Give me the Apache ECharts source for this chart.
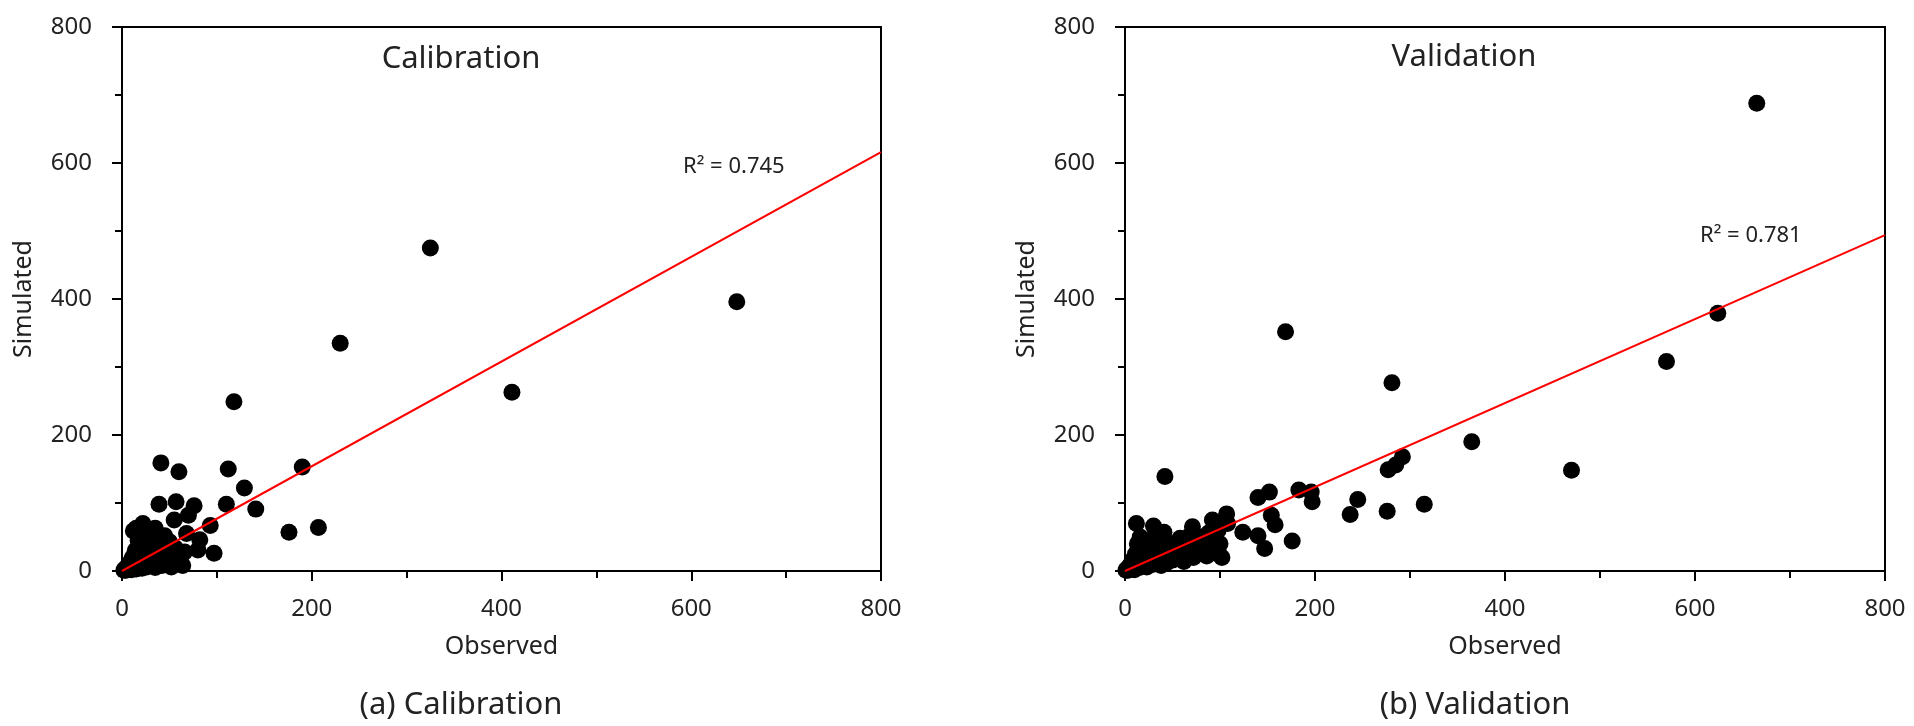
<!DOCTYPE html>
<html>
<head>
<meta charset="utf-8">
<title>Calibration / Validation</title>
<script src="https://cdn.jsdelivr.net/npm/echarts@6/dist/echarts.min.js"></script>
<style>
  html, body { margin: 0; padding: 0; background: #fff; }
  #main { width: 1914px; height: 726px; }
</style>
</head>
<body>
<div id="main"></div>
<script>
// axis ticks
var axisMin = 0;
var axisMax = 800;
var axisStep = 200;

// (a) calibration: [observed, simulated]
var calibPoints = [
  [648, 396], [325, 475], [411, 263], [230, 335], [118, 249], [207, 64], [176, 57],
  [190, 153], [141, 91], [129, 122], [112, 150], [110, 98], [97, 26], [93, 67],
  [82, 46], [80, 31], [76, 96], [70, 82], [68, 55], [61, 16], [60, 146], [57, 102],
  [55, 75], [50, 43], [41, 159], [40, 41], [39, 98], [35, 63], [22, 70], [15, 63],
  [12, 59], [58, 30],
  [2, 1], [3, 3], [4, 1], [5, 6], [6, 2], [7, 9], [8, 4], [9, 14], [10, 2], [10, 7],
  [11, 20], [12, 5], [13, 11], [14, 30], [15, 3], [16, 16], [17, 45], [18, 8],
  [19, 24], [20, 52], [21, 4], [22, 13], [24, 36], [25, 20], [26, 6], [27, 48],
  [28, 28], [30, 10], [31, 38], [32, 18], [34, 26], [35, 5], [36, 46], [38, 14],
  [40, 30], [42, 8], [44, 22], [46, 36], [48, 12], [50, 26], [52, 6], [54, 18],
  [56, 34], [58, 10], [62, 22], [64, 8], [66, 28], [45, 52], [28, 60], [32, 55]
];
var calibSlope = 0.77;
var calibR2 = 'R\u00b2 = 0.745';

// (b) validation: [observed, simulated]
var validPoints = [
  [665, 688], [624, 379], [570, 308], [470, 148], [365, 190], [315, 98], [292, 168],
  [285, 156], [281, 277], [277, 149], [276, 88], [245, 105], [237, 83], [197, 102],
  [196, 116], [183, 119], [176, 44], [169, 352], [158, 68], [154, 82], [152, 116],
  [147, 33], [140, 108], [140, 52], [124, 57], [108, 70], [107, 84], [98, 30],
  [97, 37], [92, 75], [71, 65], [42, 139], [41, 57], [30, 66], [12, 70],
  [1, 1], [2, 3], [3, 1], [4, 6], [5, 2], [6, 10], [7, 4], [8, 16], [9, 6], [10, 2],
  [11, 25], [12, 8], [13, 40], [14, 12], [15, 5], [16, 50], [17, 18], [18, 9],
  [19, 30], [20, 14], [22, 45], [23, 6], [24, 22], [26, 12], [27, 38], [28, 18],
  [30, 10], [31, 28], [33, 50], [34, 16], [36, 24], [38, 8], [39, 40], [40, 20],
  [42, 30], [44, 12], [46, 34], [48, 22], [50, 16], [52, 40], [54, 28], [56, 20],
  [58, 48], [60, 32], [62, 14], [64, 38], [66, 24], [68, 52], [70, 30], [72, 20],
  [74, 44], [76, 36], [78, 26], [80, 50], [82, 40], [84, 30], [86, 22], [88, 56],
  [90, 46], [94, 34], [96, 26], [100, 40], [102, 20], [98, 60]
];
var validSlope = 0.6175;
var validR2 = 'R\u00b2 = 0.781';

var plotTitles = ['Calibration', 'Validation'];
var captions = ['(a) Calibration', '(b) Validation'];
var xName = 'Observed';
var yName = 'Simulated';

var font = '"Noto Sans", "Open Sans", sans-serif';
var textColor = '#222';

function trend(slope) {
  return [[axisMin, axisMin * slope], [axisMax, axisMax * slope]];
}

function makeAxis(idx, name, isX) {
  return {
    type: 'value',
    gridIndex: idx,
    min: axisMin,
    max: axisMax,
    interval: axisStep,
    name: name,
    nameLocation: 'middle',
    nameGap: isX ? 63 : 86,
    nameTextStyle: { fontSize: 25, color: textColor, fontFamily: font },
    axisLine: { show: true, lineStyle: { color: '#000', width: 2 } },
    axisTick: { show: true, length: 10, lineStyle: { color: '#000', width: 2 } },
    minorTick: { show: true, splitNumber: 2, length: 7, lineStyle: { color: '#000', width: 2 } },
    splitLine: { show: false },
    axisLabel: { fontSize: 24, color: textColor, fontFamily: font, margin: isX ? 26 : 30 }
  };
}

var chart = echarts.init(document.getElementById('main'));

var option = {
  backgroundColor: '#fff',
  animation: false,
  grid: [
    { left: 122, top: 27, width: 759, height: 544, show: true, borderColor: '#000', borderWidth: 2 },
    { left: 1125, top: 27, width: 760, height: 544, show: true, borderColor: '#000', borderWidth: 2 }
  ],
  xAxis: [makeAxis(0, xName, true), makeAxis(1, xName, true)],
  yAxis: [makeAxis(0, yName, false), makeAxis(1, yName, false)],
  series: [
    {
      type: 'scatter', xAxisIndex: 0, yAxisIndex: 0,
      symbolSize: 17, itemStyle: { color: '#000', opacity: 1 },
      data: calibPoints
    },
    {
      type: 'line', xAxisIndex: 0, yAxisIndex: 0,
      showSymbol: false, lineStyle: { color: '#ff0000', width: 2 },
      data: trend(calibSlope), z: 3
    },
    {
      type: 'scatter', xAxisIndex: 1, yAxisIndex: 1,
      symbolSize: 17, itemStyle: { color: '#000', opacity: 1 },
      data: validPoints
    },
    {
      type: 'line', xAxisIndex: 1, yAxisIndex: 1,
      showSymbol: false, lineStyle: { color: '#ff0000', width: 2 },
      data: trend(validSlope), z: 3
    }
  ],
  graphic: [
    { type: 'text', x: 461, y: 59, style: { text: plotTitles[0], fontSize: 31, fontFamily: font, fill: textColor, align: 'center', verticalAlign: 'middle' } },
    { type: 'text', x: 1464, y: 57, style: { text: plotTitles[1], fontSize: 31, fontFamily: font, fill: textColor, align: 'center', verticalAlign: 'middle' } },
    { type: 'text', x: 683, y: 167, style: { text: calibR2, fontSize: 22, fontFamily: font, fill: textColor, align: 'left', verticalAlign: 'middle' } },
    { type: 'text', x: 1700, y: 236, style: { text: validR2, fontSize: 22, fontFamily: font, fill: textColor, align: 'left', verticalAlign: 'middle' } },
    { type: 'text', x: 461, y: 705, style: { text: captions[0], fontSize: 31, fontFamily: font, fill: textColor, align: 'center', verticalAlign: 'middle' } },
    { type: 'text', x: 1475, y: 705, style: { text: captions[1], fontSize: 31, fontFamily: font, fill: textColor, align: 'center', verticalAlign: 'middle' } }
  ]
};

chart.setOption(option);
</script>
</body>
</html>
